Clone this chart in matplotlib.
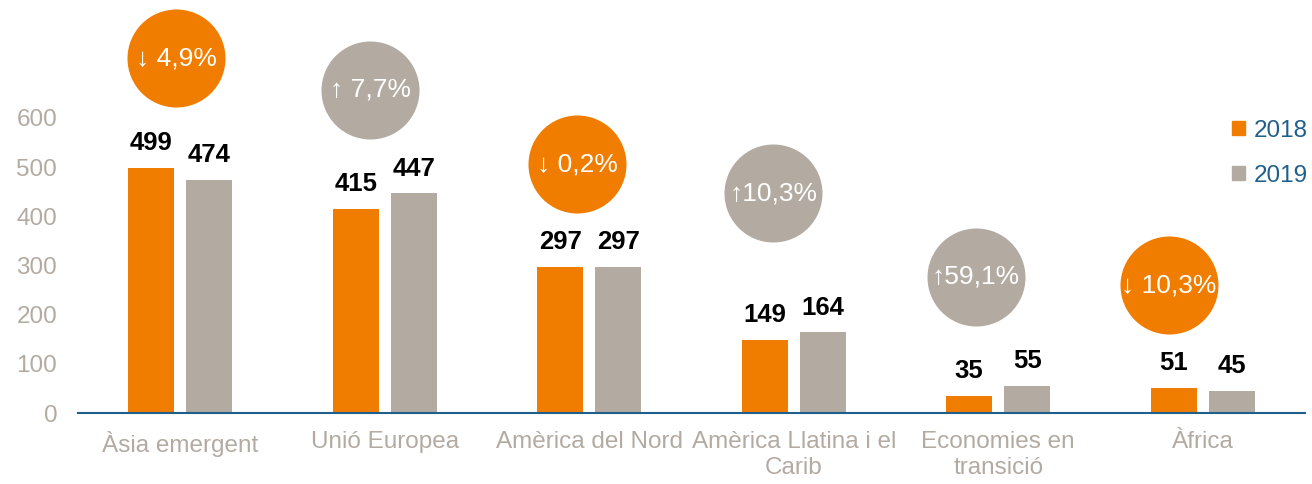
import matplotlib
matplotlib.use("Agg")
import matplotlib.pyplot as plt
import numpy as np
from matplotlib.patches import Patch

plt.rcParams['font.family'] = ['Liberation Sans', 'DejaVu Sans']

categories = ["Àsia emergent", "Unió Europea", "Amèrica del Nord",
              "Amèrica Llatina i el\nCarib", "Economies en\ntransició", "Àfrica"]
values_2018 = [499, 415, 297, 149, 35, 51]
values_2019 = [474, 447, 297, 164, 55, 45]
changes = ["↓ 4,9%", "↑ 7,7%", "↓ 0,2%", "↑10,3%", "↑59,1%", "↓ 10,3%"]
change_up = [False, True, False, True, True, False]
yticks = [0, 100, 200, 300, 400, 500, 600]

# layout constants for the bubbles (data coords)
bubble_dx = [-0.02, -0.07, -0.06, -0.10, -0.11, -0.165]
bubble_y = [722, 657, 506, 447, 277, 260]

ORANGE = "#F07D00"
GRAY = "#B3ABA2"
BLUE = "#1F5F8B"

fig = plt.figure(figsize=(13.12, 4.84), dpi=100)
ax = fig.add_axes([78/1312, 71/484, 1227/1312, 413/484])

x = np.arange(len(categories))
w = 0.225
off = 0.142
ax.bar(x - off, values_2018, w, color=ORANGE)
ax.bar(x + off, values_2019, w, color=GRAY)

for xs, vals in ((x - off, values_2018), (x + off, values_2019)):
    for xi, v in zip(xs, vals):
        ax.annotate(str(v), (xi, v), xytext=(0, 9), textcoords="offset points",
                    ha="center", va="bottom", fontsize=18.5, fontweight="bold",
                    color="black")

for i in range(len(categories)):
    c = GRAY if change_up[i] else ORANGE
    bx = x[i] + bubble_dx[i]
    ax.scatter([bx], [bubble_y[i]], s=4980, color=c, linewidths=0, zorder=3, clip_on=False)
    ax.text(bx, bubble_y[i], changes[i], ha="center", va="center", color="white",
            fontsize=19, zorder=4)

ax.set_xlim(-0.5, len(categories) - 0.5)
ax.set_ylim(0, 840)
ax.set_yticks(yticks)
ax.set_yticklabels([str(t) for t in yticks])
ax.set_xticks(x)
ax.set_xticklabels(categories, linespacing=1.25)
ax.tick_params(axis="both", length=0, labelsize=17.5, labelcolor=GRAY)
ax.tick_params(axis="y", pad=15)
ax.tick_params(axis="x", pad=13)
for s in ["top", "right", "left"]:
    ax.spines[s].set_visible(False)
ax.spines["bottom"].set_color(BLUE)
ax.spines["bottom"].set_linewidth(1.5)

handles = [Patch(color=ORANGE, label="2018"), Patch(color=GRAY, label="2019")]
leg = fig.legend(handles=handles, loc="upper right", bbox_to_anchor=(1.006, 0.778),
                 frameon=False, fontsize=17.5, handlelength=0.55, handleheight=0.55,
                 handletextpad=0.35, labelspacing=0.95, borderaxespad=0.1)
for t in leg.get_texts():
    t.set_color(BLUE)

fig.savefig("out.png", dpi=100)
